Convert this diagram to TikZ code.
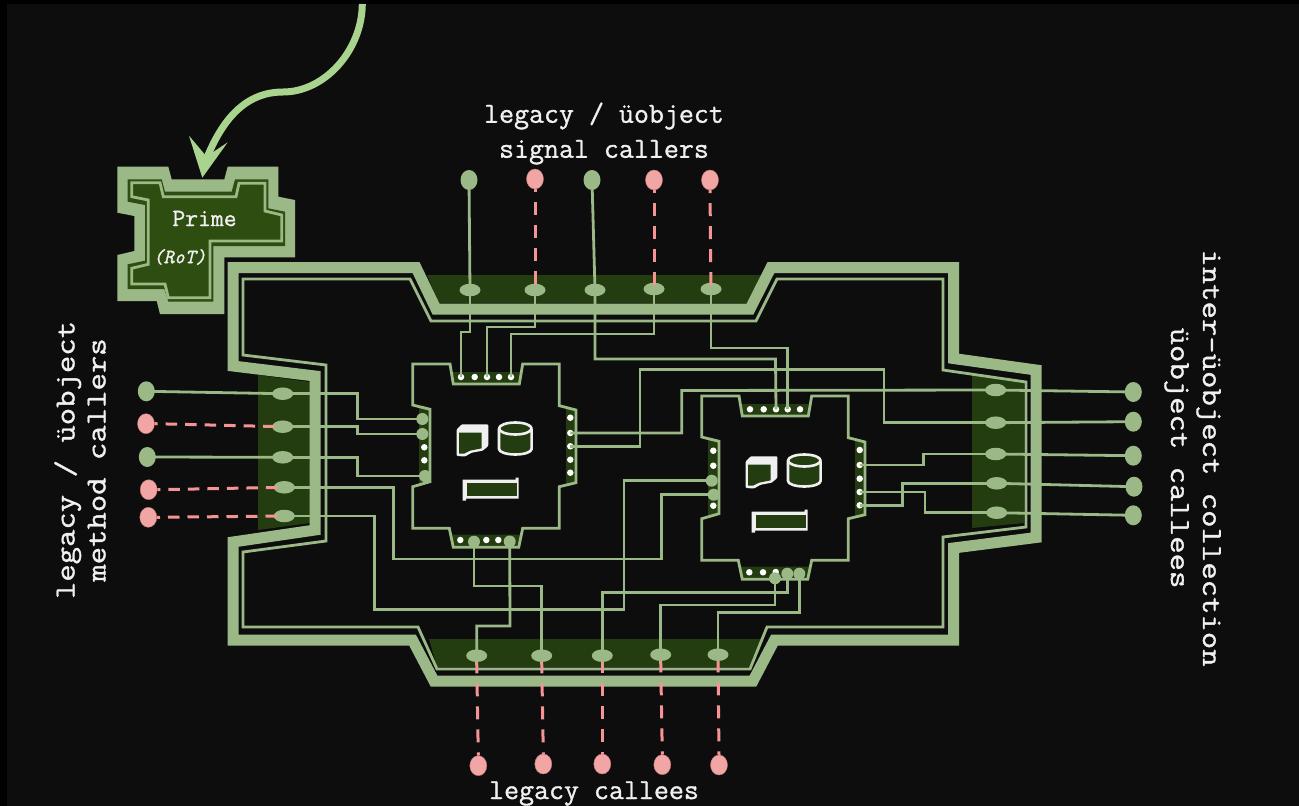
\documentclass[tikz,border=0pt]{standalone}
\usepackage{fontspec}
\usetikzlibrary{shapes.geometric}
\newfontfamily\labfont[FakeBold=1.1]{Latin Modern Mono}
\definecolor{pagebg}{HTML}{0D0D0D}
\definecolor{leaf}{HTML}{9BB987}
\definecolor{deepgreen}{HTML}{243D10}
\definecolor{primegreen}{HTML}{2E4D10}
\definecolor{arrowgreen}{HTML}{A9D48D}
\definecolor{rose}{HTML}{F2A5A5}
\definecolor{rosewire}{HTML}{F49494}
\definecolor{labelwhite}{HTML}{F0F0F0}
\tikzset{
  wire/.style={draw=leaf,line width=2.8pt,line join=miter},
  rosedash/.style={draw=rosewire,line width=3pt},
  vdash/.style={rosedash,dash pattern=on 13pt off 10pt},
  hdash/.style={rosedash,dash pattern=on 11.5pt off 8pt,dash phase=8.5pt},
  band/.style={draw=leaf,line width=11pt,line join=miter,miter limit=10},
  gatefill/.style={fill=deepgreen,draw=none},
  dot/.style={circle,fill=white,draw=none,minimum size=6.5pt,inner sep=0pt},
  bigpin/.style={circle,fill=leaf,draw=none,minimum size=12pt,inner sep=0pt},
  oval/.style={ellipse,fill=leaf,draw=none,minimum width=21pt,minimum height=12.5pt,inner sep=0pt},
  extgreen/.style={ellipse,fill=leaf,draw=none,minimum width=17pt,minimum height=20pt,inner sep=0pt},
  extrose/.style={ellipse,fill=rose,draw=rosewire!80!black,line width=.4pt,minimum width=17pt,minimum height=20pt,inner sep=0pt},
  lab/.style={text=labelwhite,inner sep=0pt,font=\labfont\fontsize{29.1}{35}\selectfont,align=center},
  iconw/.style={draw=labelwhite,line width=2.6pt,fill=deepgreen,line join=round},
}
\newcommand{\chipbody}{%
  \fill[gatefill] (452,372) -- (521,372) -- (519.3,384) -- (453.3,384) -- cycle;
  \fill[gatefill] (419,407) -- (430,409.3) -- (430,481.7) -- (419,484) -- cycle;
  \fill[gatefill] (566,408) -- (576,410) -- (576,482.7) -- (566,485) -- cycle;
  \fill[gatefill] (451,534.5) -- (521,534.5) -- (518.7,547.3) -- (453.3,547.3) -- cycle;
  \draw[wire] (412.7,364) -- (450,364) -- (453.3,384) -- (519.3,384) -- (522.7,364) -- (559.3,364) -- (559.3,405.7) -- (576,410) -- (576,482.7) -- (559.3,486.7) -- (559.3,528.3) -- (522.7,528.3) -- (518.7,547.3) -- (453.3,547.3) -- (449.3,528.3) -- (412.7,528.3) -- (412.7,486.7) -- (430,481.7) -- (430,409.3) -- (412.7,405) -- cycle;
  \fill[labelwhite,rounded corners=1pt] (456.7,429.3) -- (461.7,424.3) -- (488.3,424.3) -- (488.3,446) -- (482.7,450.7) -- (471.7,452.7) -- (465,456.5) -- (456.7,456) -- cycle;
  \fill[deepgreen] (459,432.7) -- (481.7,432.7) -- (481.7,448.3) -- (470,450.7) -- (464,453.7) -- (459,453.7) -- cycle;
  \draw[iconw] (499,428.5) -- (499,449) arc[start angle=180,end angle=360,x radius=16.3,y radius=-5.5] -- (531.6,428.5);
  \draw[iconw] (515.3,428.5) ellipse[x radius=16.3,y radius=6];
  \fill[labelwhite] (462.7,479.7) -- (515.5,479.7) -- (515.5,477.5) -- (518.7,477.5) -- (518.7,498.5) -- (466,498.5) -- (466,500.5) -- (462.7,500.5) -- cycle;
  \fill[deepgreen] (467,482.7) rectangle (516.7,496);
}
\begin{document}
\begin{tikzpicture}[x=1pt,y=-1pt]
\useasboundingbox (0,0) rectangle (1299,806);
\fill[black] (0,0) rectangle (1299,806);
\fill[pagebg] (7,4) rectangle (1299,806);

% Prime
\fill[leaf] (117.3,166.7) -- (168.3,166.7) -- (171.7,179.3) -- (224.3,179.3) -- (227.7,166.7) -- (278.3,166.7) -- (278.3,196.7) -- (295,200) -- (295,257.3) -- (224.3,257.3) -- (224.3,314) -- (160,314) -- (156.7,301) -- (117.3,301) -- (117.3,255) -- (134.3,251) -- (134.3,216) -- (117.3,212.7) -- cycle;
\fill[primegreen] (127.7,179.3) -- (161.7,179.3) -- (165,191.7) -- (231.7,191.7) -- (235,179.3) -- (268.3,179.3) -- (268.3,208.3) -- (285,211.7) -- (285,246) -- (213.3,246) -- (213.3,301.7) -- (168.3,301.7) -- (164.3,289) -- (127.7,289) -- (127.7,264.3) -- (145,260.7) -- (145,205) -- (127.7,201.7) -- cycle;
\draw[wire] (131.7,182.7) -- (160,182.7) -- (163.3,196.7) -- (236,196.7) -- (239,183.3) -- (265,183.3) -- (265,211) -- (281.7,215) -- (281.7,241) -- (210,241) -- (210,297.7) -- (168.3,297.7) -- (165,284) -- (131.7,284) -- (131.7,268.3) -- (148.3,264.3) -- (148.3,200) -- (131.7,196.7) -- cycle;
\node[text=labelwhite,inner sep=0pt,font=\labfont\fontsize{24.9}{28}\selectfont] (primelabel) at (204.5,218.5) {Prime};
\node[text=labelwhite,inner sep=0pt,font=\labfont\itshape\fontsize{20.2}{24}\selectfont] (rotlabel) at (179.5,257) {(RoT)};

% Arrow
\coordinate (arrowstart) at (362.3,4);
\coordinate (arrowtip) at (202.3,177.7);
\draw[draw=arrowgreen,line width=7pt] (arrowstart) .. controls (362,50) and (325,92) .. (283,92) .. controls (245,92) and (222,120) .. (206,160);
\fill[arrowgreen] (arrowtip) -- (189,135.7) -- (206.5,156.5) -- (227.7,142.3) -- cycle;

% Gates
\fill[gatefill] (427,275) -- (762,275) -- (747,303) -- (439,303) -- cycle;
\fill[gatefill] (429,639) -- (762,639) -- (750,667) -- (437,667) -- cycle;
\fill[gatefill] (258,375) -- (310,382) -- (310,523) -- (258,530) -- cycle;
\fill[gatefill] (972,374) -- (1024,382) -- (1024,523) -- (972,528) -- cycle;

% Collection walls
\draw[band] (233,267.5) -- (416,267.5) -- (436,309) -- (750,309) -- (771,267.5) -- (953.5,267.5) -- (953.5,358.5) -- (1036,370) -- (1036,537.5) -- (953.5,548) -- (953.5,640) -- (774.5,640) -- (753,681) -- (434,681) -- (412.5,640) -- (233,640) -- (233,542) -- (315,530) -- (315,376) -- (233,366) -- cycle;
\draw[wire] (243,279) -- (410,279) -- (431,321) -- (756,321) -- (777,279) -- (943,279) -- (943,370) -- (1026,382) -- (1026,527) -- (943,537) -- (943,627) -- (767,627) -- (750,669) -- (437,669) -- (418,627) -- (243,627) -- (243,552) -- (326,541) -- (326,365) -- (243,355) -- cycle;

% Chips
\chipbody
\begin{scope}[shift={(289,32)}]
\chipbody
\end{scope}

% Chip 1 pins
\node[dot] (ca1) at (461,377) {}; \node[dot] (ca2) at (474.7,377) {}; \node[dot] (ca3) at (487,377) {}; \node[dot] (ca4) at (499,377) {}; \node[dot] (ca5) at (511,377) {};
\node[dot] (ar1) at (570.3,417.7) {}; \node[dot] (ar2) at (570.3,433) {}; \node[dot] (ar3) at (570.3,446.3) {}; \node[dot] (ar4) at (570.3,459.7) {}; \node[dot] (ar5) at (570.3,472.7) {};
\node[bigpin] (al1) at (422.3,419) {}; \node[bigpin] (al2) at (422.3,434) {}; \node[dot] (al3) at (424.3,447.3) {}; \node[dot] (al4) at (424.3,460.3) {}; \node[bigpin] (al5) at (425,476) {};
\node[dot] (ab1) at (460.3,540) {}; \node[bigpin] (ab2) at (474,541.7) {}; \node[dot] (ab3) at (486.3,540) {}; \node[dot] (ab4) at (498.3,540) {}; \node[bigpin] (ab5) at (509.7,541.5) {};
% Chip 2 pins
\node[dot] (bt1) at (750,409.3) {}; \node[dot] (bt2) at (763.7,409.3) {}; \node[dot] (bt3) at (776,409.3) {}; \node[dot] (bt4) at (787.7,409.3) {}; \node[dot] (bt5) at (800,409.3) {};
\node[dot] (br1) at (859.7,450) {}; \node[dot] (br2) at (859.7,465) {}; \node[dot] (br3) at (859.7,478.7) {}; \node[dot] (br4) at (859.7,492) {}; \node[dot] (br5) at (859.7,505.3) {};
\node[dot] (bl1) at (713.3,450.7) {}; \node[dot] (bl2) at (713.3,465.7) {}; \node[bigpin] (bl3) at (711.7,480.7) {}; \node[bigpin] (bl4) at (713.7,494.7) {}; \node[dot] (bl5) at (713.3,505.7) {};
\node[dot] (bb1) at (749.3,572.3) {}; \node[dot] (bb2) at (763,572.3) {}; \node[dot] (bb3) at (775.7,572) {}; \node[bigpin] (bb4) at (775,578.3) {}; \node[bigpin] (bb5) at (787.3,573.7) {}; \node[bigpin] (bb6) at (799.3,573.7) {};

% Top pins
\node[extgreen] (te1) at (469,180) {}; \node[extrose] (te2) at (535,179) {}; \node[extgreen] (te3) at (592,180) {}; \node[extrose] (te4) at (654,180) {}; \node[extrose] (te5) at (710,180) {};
\node[oval] (tg1) at (470,290) {}; \node[oval] (tg2) at (535,290) {}; \node[oval] (tg3) at (595,290) {}; \node[oval] (tg4) at (654,289) {}; \node[oval] (tg5) at (711,289) {};
% Left pins
\node[extgreen] (le1) at (146.3,391.3) {}; \node[extrose] (le2) at (146,423.7) {}; \node[extgreen] (le3) at (147.3,457) {}; \node[extrose] (le4) at (148.7,489.7) {}; \node[extrose] (le5) at (148.3,517.3) {};
\node[oval] (lg1) at (282.7,393.7) {}; \node[oval] (lg2) at (282.7,426.7) {}; \node[oval] (lg3) at (282.7,457.3) {}; \node[oval] (lg4) at (284.3,487.3) {}; \node[oval] (lg5) at (284.3,516) {};
% Right pins
\node[extgreen] (re1) at (1133.3,392) {}; \node[extgreen] (re2) at (1133.3,421.7) {}; \node[extgreen] (re3) at (1133.3,455.7) {}; \node[extgreen] (re4) at (1134,486.7) {}; \node[extgreen] (re5) at (1133.3,515.3) {};
\node[oval] (rg1) at (995.7,390) {}; \node[oval] (rg2) at (995.7,422.7) {}; \node[oval] (rg3) at (995.7,454) {}; \node[oval] (rg4) at (996.7,483.3) {}; \node[oval] (rg5) at (996.7,512.7) {};
% Bottom pins
\node[oval] (bg1) at (476.7,655.7) {}; \node[oval] (bg2) at (541.7,655.7) {}; \node[oval] (bg3) at (602.3,655.7) {}; \node[oval] (bg4) at (660.7,654.7) {}; \node[oval] (bg5) at (718,654.7) {};
\node[extrose] (be1) at (478.3,765.7) {}; \node[extrose] (be2) at (543.3,764) {}; \node[extrose] (be3) at (602.3,764) {}; \node[extrose] (be4) at (662.3,764.7) {}; \node[extrose] (be5) at (719,765) {};

% External connections
\draw[wire] (te1.center) -- (tg1.center);
\draw[wire] (te3.center) -- (tg3.center);
\foreach \a/\b in {te2/tg2,te4/tg4,te5/tg5}{\draw[vdash,dash phase=10pt] (\a.south) -- (\b.center);}
\foreach \a/\b in {be1/bg1,be2/bg2,be3/bg3,be4/bg4,be5/bg5}{\draw[vdash,dash phase=1.7pt] (\b.south) -- (\a.north);}
\draw[wire] (le1.center) -- (lg1.center);
\draw[wire] (le3.center) -- (lg3.center);
\foreach \a/\b in {le2/lg2,le4/lg4,le5/lg5}{\draw[hdash] (\a.east) -- (\b.center);}
\foreach \n in {1,...,5}{\draw[wire] (rg\n.center) -- (re\n.center);}

% Internal wiring
\draw[wire] (tg1.center) -- (470,332) -- (461,332) -- (ca1.center);
\draw[wire] (tg2.center) -- (535,327) -- (487,327) -- (ca3.center);
\draw[wire] (tg4.center) -- (654,334) -- (511,334) -- (ca5.center);
\draw[wire] (tg3.center) -- (595,359) -- (775.5,359) -- (bt3.center);
\draw[wire] (tg5.center) -- (711,348) -- (787.7,348) -- (bt4.center);
\draw[wire] (lg1.center) -- (357.7,393.7) -- (357.7,419) -- (al1.center);
\draw[wire] (lg2.center) -- (357.7,426.7) -- (357.7,434) -- (al2.center);
\draw[wire] (lg3.center) -- (357.7,457.3) -- (357.7,476) -- (al5.center);
\draw[wire] (lg4.center) -- (393.3,487.3) -- (393.3,559) -- (661.7,559) -- (661.7,494.7) -- (bl4.center);
\draw[wire] (lg5.center) -- (374.3,516) -- (374.3,609.3) -- (624,609.3) -- (624,480.7) -- (bl3.center);
\draw[wire] (ab2.center) -- (474,586) -- (541.7,586) -- (bg2.center);
\draw[wire] (ab5.center) -- (510,626) -- (476.7,626) -- (bg1.center);
\draw[wire] (bb4.center) -- (775,605) -- (660.7,605) -- (bg4.center);
\draw[wire] (bb5.center) -- (787.3,592.7) -- (602.3,592.7) -- (bg3.center);
\draw[wire] (bb6.center) -- (799.3,612.7) -- (718,612.7) -- (bg5.center);
\draw[wire] (ar2.center) -- (681.7,433) -- (681.7,390.5) -- (rg1.center);
\draw[wire] (ar3.center) -- (640,446.3) -- (640,369.3) -- (884,369.3) -- (884,422.7) -- (rg2.center);
\draw[wire] (br2.center) -- (923.3,465) -- (923.3,454) -- (rg3.center);
\draw[wire] (br4.center) -- (925,492) -- (925,512.7) -- (rg5.center);
\draw[wire] (br5.center) -- (902.3,505.3) -- (902.3,483.3) -- (rg4.center);

% Labels
\node[lab] (toplabel) at (604,133.5) {legacy / üobject\\signal callers};
\node[lab] (bottomlabel) at (594,793.5) {legacy callees};
\node[lab,rotate=90] (leftlabel) at (83,460) {\scalebox{1.16}[1]{\begin{tabular}{@{}c@{}}legacy / üobject\\[-4pt]method callers\end{tabular}}};
\node[lab,rotate=-90] (rightlabel) at (1194,458) {\scalebox{1.16}[1]{\begin{tabular}{@{}c@{}}inter-üobject collection\\[-3pt]üobject callees\end{tabular}}};
\end{tikzpicture}
\end{document}
